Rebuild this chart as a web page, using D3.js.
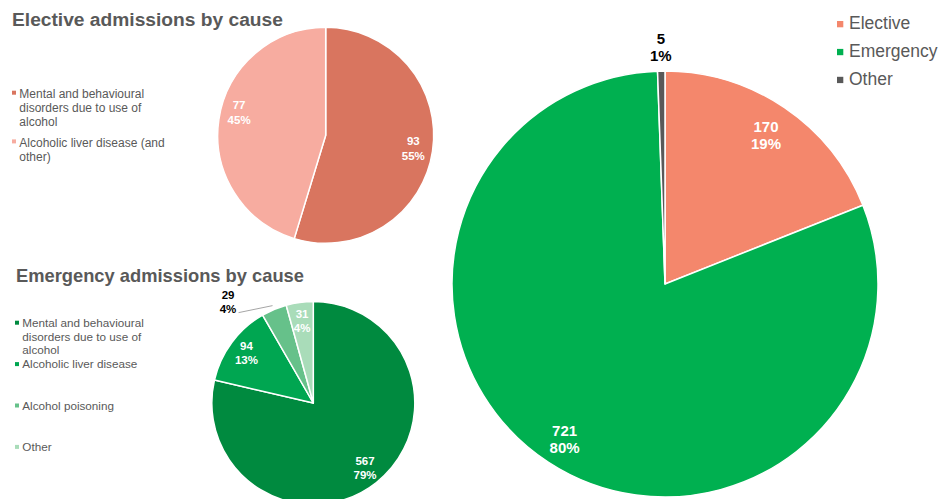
<!DOCTYPE html>
<html>
<head>
<meta charset="utf-8">
<script src="https://cdn.jsdelivr.net/npm/d3@7/dist/d3.min.js"></script>
<style>
  html, body { margin: 0; padding: 0; background: #fff; }
  svg { display: block; font-family: "Liberation Sans", Arial, sans-serif; }
</style>
</head>
<body>
<svg id="chart" width="940" height="499"></svg>
<script>
// Admissions overall
const totalCategories = ["Elective", "Emergency", "Other"];
const totalValues = [170, 721, 5];
const totalPercents = ["19%", "80%", "1%"];
const totalColors = ["#F4876C", "#00B050", "#595959"];

// Elective admissions by cause
const electiveCauses = ["Mental and behavioural disorders due to use of alcohol", "Alcoholic liver disease (and other)"];
const electiveValues = [93, 77];
const electivePercents = ["55%", "45%"];
const electiveColors = ["#D9755F", "#F7ACA0"];

// Emergency admissions by cause
const emergencyCauses = ["Mental and behavioural disorders due to use of alcohol", "Alcoholic liver disease", "Alcohol poisoning", "Other"];
const emergencyValues = [567, 94, 29, 31];
const emergencyPercents = ["79%", "13%", "4%", "4%"];
const emergencyColors = ["#008A3F", "#00A651", "#66C18A", "#A9DCB9"];

const svg = d3.select("#chart");
const TEXT_GREY = "#595959";

// Draws one pie with its data labels; `outside` lists indices labelled outside the slice,
// `nudge` shifts individual inside labels away from the centroid.
function drawPie(cfg) {
  const g = svg.append("g").attr("transform", `translate(${cfg.cx},${cfg.cy})`);
  const pie = d3.pie().sort(null).value(d => d.value);
  const data = cfg.values.map((v, i) => ({ value: v, pct: cfg.percents[i], color: cfg.colors[i], i }));
  const arcs = pie(data);
  const arc = d3.arc().innerRadius(0).outerRadius(cfg.r);
  const labelArc = d3.arc().innerRadius(cfg.r * cfg.labelFrac).outerRadius(cfg.r * cfg.labelFrac);
  const nudge = cfg.nudge || {};

  g.selectAll("path.slice").data(arcs).join("path")
    .attr("class", "slice")
    .attr("d", arc)
    .attr("fill", d => d.data.color)
    .attr("stroke", "#fff")
    .attr("stroke-width", 1.5)
    .attr("stroke-linejoin", "round");

  const label = (x, y, d, fill) => {
    g.append("text").attr("x", x).attr("y", y)
      .attr("text-anchor", "middle").attr("font-size", cfg.fontSize)
      .attr("font-weight", "bold").attr("fill", fill).text(d.data.value);
    g.append("text").attr("x", x).attr("y", y + cfg.lineGap)
      .attr("text-anchor", "middle").attr("font-size", cfg.fontSize)
      .attr("font-weight", "bold").attr("fill", fill).text(d.data.pct);
  };

  arcs.forEach(d => {
    const out = cfg.outside[d.index];
    if (out) {
      const mid = (d.startAngle + d.endAngle) / 2;
      const rr = cfg.r * out.radius;
      const px = Math.sin(mid) * rr, py = -Math.cos(mid) * rr;
      if (out.leader) {
        const ex = px + out.leader[0], ey = py + out.leader[1];
        g.append("line")
          .attr("x1", px).attr("y1", py).attr("x2", ex).attr("y2", ey)
          .attr("stroke", "#A6A6A6").attr("stroke-width", 1);
        label(ex - out.shift, ey - cfg.lineGap, d, "#000");
      } else {
        label(px, py + cfg.firstOffset, d, "#000");
      }
      return;
    }
    const [cx, cy] = labelArc.centroid(d);
    const [nx, ny] = nudge[d.index] || [0, 0];
    label(cx + nx, cy + ny + cfg.firstOffset, d, "#fff");
  });
}

// Wrapped legend with small square markers
function drawLegend(cfg) {
  cfg.labels.forEach((label, i) => {
    const baseY = cfg.y + i * cfg.step;
    svg.append("rect")
      .attr("x", cfg.x).attr("y", baseY - cfg.markerRise)
      .attr("width", cfg.marker).attr("height", cfg.marker)
      .attr("fill", cfg.colors[i]);
    const t = svg.append("text")
      .attr("x", cfg.x + cfg.textDx).attr("y", baseY)
      .attr("font-size", cfg.fontSize).attr("fill", TEXT_GREY);
    const words = label.split(" ");
    let line = [];
    let tspan = t.append("tspan").attr("x", cfg.x + cfg.textDx).attr("dy", 0);
    words.forEach(w => {
      line.push(w);
      tspan.text(line.join(" "));
      if (cfg.maxWidth && tspan.node().getComputedTextLength() > cfg.maxWidth && line.length > 1) {
        line.pop();
        tspan.text(line.join(" "));
        line = [w];
        tspan = t.append("tspan").attr("x", cfg.x + cfg.textDx).attr("dy", cfg.lineHeight).text(w);
      }
    });
  });
}

// Titles
svg.append("text").attr("x", 12).attr("y", 26)
  .attr("font-size", 19.2).attr("font-weight", "bold").attr("fill", TEXT_GREY)
  .text("Elective admissions by cause");
svg.append("text").attr("x", 16).attr("y", 281.7)
  .attr("font-size", 19).attr("font-weight", "bold").attr("fill", TEXT_GREY)
  .attr("textLength", 288).attr("lengthAdjust", "spacingAndGlyphs")
  .text("Emergency admissions by cause");

// Main pie
drawPie({
  cx: 665, cy: 284, r: 213,
  values: totalValues, percents: totalPercents, colors: totalColors,
  labelFrac: 0.845, fontSize: 15, firstOffset: -3, lineGap: 17,
  outside: { 2: { radius: 1.115 } },
  nudge: { 1: [-2, 4] }
});

// Elective pie
drawPie({
  cx: 325.7, cy: 135.3, r: 108,
  values: electiveValues, percents: electivePercents, colors: electiveColors,
  labelFrac: 0.82, fontSize: 11.5, firstOffset: -3, lineGap: 14.3,
  outside: {},
  nudge: { 1: [1, -10] }
});

// Emergency pie
drawPie({
  cx: 313.3, cy: 403, r: 101.5,
  values: emergencyValues, percents: emergencyPercents, colors: emergencyColors,
  labelFrac: 0.82, fontSize: 11.5, firstOffset: -3, lineGap: 14,
  outside: { 2: { radius: 1.04, leader: [-34, 7], shift: 10.5 } }
});

// Legends
drawLegend({
  labels: totalCategories, colors: totalColors,
  x: 837, y: 29.3, step: 27.9, marker: 6.3, markerRise: 8.3, textDx: 12,
  fontSize: 17.5, lineHeight: 20
});
drawLegend({
  labels: electiveCauses, colors: electiveColors,
  x: 12, y: 98.3, step: 48.7, marker: 4, markerRise: 7.6, textDx: 7.3,
  fontSize: 12, lineHeight: 14, maxWidth: 150
});
drawLegend({
  labels: emergencyCauses, colors: emergencyColors,
  x: 15, y: 327, step: 41.4, marker: 4, markerRise: 6.3, textDx: 7.3,
  fontSize: 11.7, lineHeight: 13.6, maxWidth: 150
});
</script>
</body>
</html>
